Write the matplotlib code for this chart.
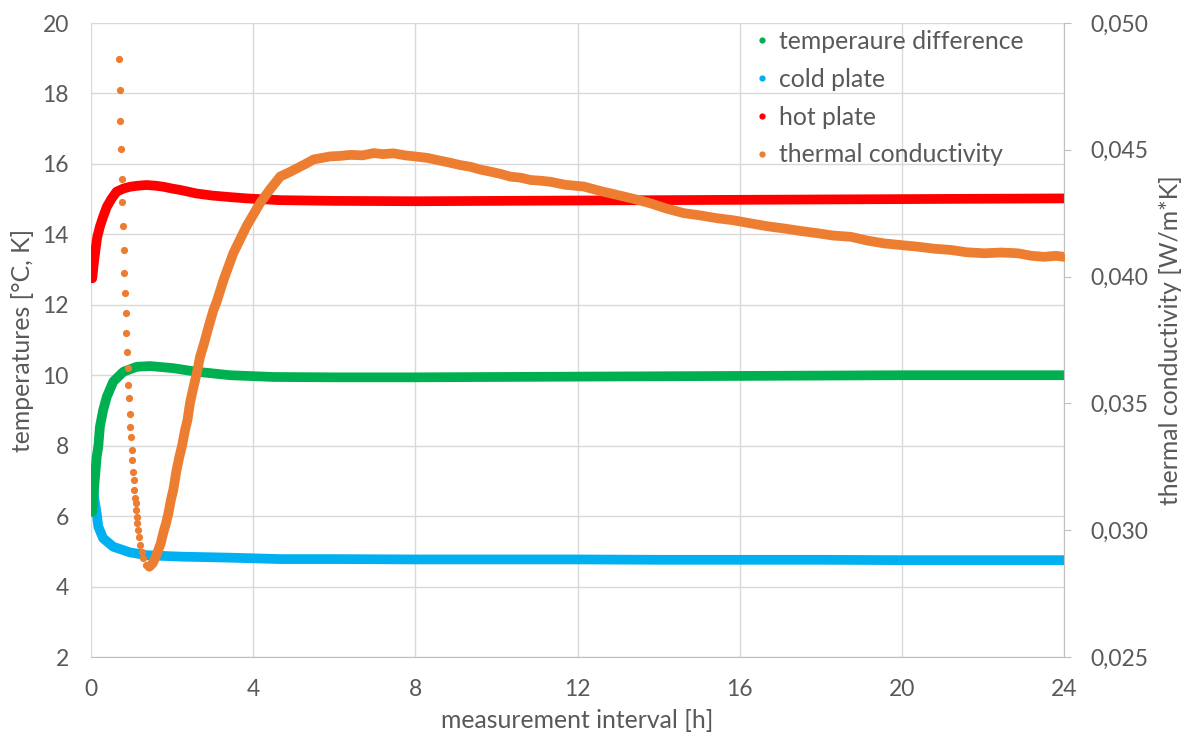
import matplotlib
matplotlib.use("Agg")
import matplotlib.pyplot as plt
from matplotlib.lines import Line2D
from matplotlib.ticker import FuncFormatter, MultipleLocator

# ---- measured series -------------------------------------------------------
# hot plate temperature [°C]
hot_t = [0.03, 0.06, 0.10, 0.15, 0.22, 0.30, 0.39, 0.50, 0.63, 0.80, 0.96, 1.15,
         1.37, 1.60, 1.79, 2.00, 2.20, 2.60, 3.00, 3.40, 3.84, 4.67, 6.0, 8.0,
         10.0, 12.0, 14.0, 16.0, 18.0, 20.0, 22.0, 24.0]
hot = [12.75, 13.08, 13.46, 13.90, 14.22, 14.50, 14.78, 15.00, 15.21, 15.30, 15.35,
       15.38, 15.40, 15.38, 15.35, 15.30, 15.26, 15.16, 15.10, 15.06, 15.02, 14.97,
       14.95, 14.94, 14.95, 14.96, 14.97, 14.98, 14.99, 15.00, 15.01, 15.02]

# cold plate temperature [°C]
cold_t = [0.03, 0.06, 0.07, 0.10, 0.14, 0.18, 0.30, 0.55, 0.96, 1.37, 2.20, 3.43,
          4.67, 6.0, 8.0, 10.0, 12.0, 14.0, 16.0, 18.0, 20.0, 22.0, 24.0]
cold = [7.31, 6.88, 6.60, 6.36, 6.08, 5.70, 5.37, 5.13, 4.97, 4.89, 4.85, 4.82,
        4.78, 4.78, 4.77, 4.77, 4.77, 4.76, 4.76, 4.76, 4.75, 4.75, 4.75]

# temperature difference [K]
diff_t = [0.03, 0.07, 0.10, 0.14, 0.18, 0.22, 0.30, 0.39, 0.55, 0.80, 1.13, 1.46,
          2.03, 2.60, 3.43, 4.50, 6.0, 8.0, 10.0, 12.0, 14.0, 16.0, 18.0, 20.0,
          22.0, 24.0]
diff = [6.12, 6.70, 7.12, 7.69, 7.97, 8.54, 9.01, 9.39, 9.82, 10.10, 10.24, 10.26,
        10.20, 10.10, 10.00, 9.95, 9.94, 9.94, 9.95, 9.96, 9.97, 9.98, 9.99, 10.00,
        10.00, 10.00]

# thermal conductivity [W/m*K] - start-up readings (sparse, one per minute)
tc_start_t = [0.699, 0.709, 0.723, 0.741, 0.758, 0.773, 0.790, 0.807, 0.822, 0.847,
              0.864, 0.872, 0.889, 0.906, 0.921, 0.938, 0.956, 0.970, 0.988, 1.005,
              1.020, 1.037, 1.054, 1.069, 1.086, 1.104, 1.119, 1.136, 1.144, 1.169,
              1.193, 1.218, 1.251, 1.292, 1.358]
tc_start = [0.04858, 0.04736, 0.04614, 0.04503, 0.04385, 0.04293, 0.04200, 0.04105,
            0.04013, 0.03934, 0.03858, 0.03779, 0.03704, 0.03638, 0.03573, 0.03520,
            0.03458, 0.03408, 0.03369, 0.03316, 0.03277, 0.03231, 0.03198, 0.03159,
            0.03126, 0.03106, 0.03080, 0.03053, 0.03027, 0.03001, 0.02974, 0.02942,
            0.02915, 0.02889, 0.02863]

# thermal conductivity [W/m*K] - main run
tc_t = [1.44, 1.52, 1.60, 1.66, 1.72, 1.78, 1.85, 1.91, 1.97, 2.03, 2.11, 2.18, 2.24,
        2.32, 2.38, 2.44, 2.53, 2.61, 2.69, 2.79, 2.90, 3.02, 3.10, 3.27, 3.51, 3.84,
        4.17, 4.42, 4.67, 4.90, 5.08, 5.30, 5.49, 5.70, 5.90, 6.15, 6.40, 6.70, 6.97,
        7.20, 7.46, 7.75, 8.04, 8.30, 8.53, 8.86, 9.10, 9.36, 9.60, 9.85, 10.10,
        10.35, 10.60, 10.84, 11.10, 11.33, 11.70, 12.16, 12.55, 12.98, 13.40, 13.80,
        14.20, 14.63, 15.00, 15.45, 15.85, 16.27, 16.70, 17.09, 17.50, 17.92, 18.30,
        18.74, 19.15, 19.56, 20.00, 20.39, 20.80, 21.21, 21.60, 22.03, 22.45, 22.86,
        23.20, 23.51, 23.80, 24.00]
tc = [0.02856, 0.02869, 0.02896, 0.02922, 0.02948, 0.02988, 0.03027, 0.03067,
      0.03119, 0.03159, 0.03237, 0.03290, 0.03329, 0.03395, 0.03435, 0.03500,
      0.03566, 0.03619, 0.03684, 0.03737, 0.03802, 0.03868, 0.03901, 0.03987,
      0.04092, 0.04200, 0.04290, 0.04345, 0.04395, 0.04412, 0.04427, 0.04445,
      0.04462, 0.04468, 0.04474, 0.04476, 0.04480, 0.04478, 0.04487, 0.04483,
      0.04486, 0.04478, 0.04473, 0.04468, 0.04460, 0.04449, 0.04440, 0.04433,
      0.04422, 0.04414, 0.04405, 0.04394, 0.04390, 0.04381, 0.04378, 0.04374,
      0.04362, 0.04355, 0.04338, 0.04322, 0.04306, 0.04289, 0.04268, 0.04250,
      0.04242, 0.04230, 0.04222, 0.04210, 0.04198, 0.04190, 0.04180, 0.04171,
      0.04162, 0.04157, 0.04142, 0.04131, 0.04124, 0.04118, 0.04110, 0.04105,
      0.04096, 0.04092, 0.04095, 0.04092, 0.04082, 0.04078, 0.04082, 0.04078]

x_ticks = [0, 4, 8, 12, 16, 20, 24]
labels = ["temperaure difference", "cold plate", "hot plate", "thermal conductivity"]

# ---- style -----------------------------------------------------------------
C_DIFF, C_COLD, C_HOT, C_TC = "#00B050", "#00B0F0", "#FF0000", "#ED7D31"
TXT = "#595959"
GRID = "#D9D9D9"
AXL = "#BFBFBF"
plt.rcParams["font.family"] = ["Lato", "DejaVu Sans"]
FS_TICK = 16.5
FS_TEXT = 17.8

W, H = 1187, 738
fig = plt.figure(figsize=(W / 100, H / 100), dpi=100)
ax = fig.add_axes([91 / W, 81 / H, (1064 - 91) / W, (657 - 23) / H])
ax2 = ax.twinx()

ax.set_xlim(0, 24)
ax.set_ylim(2, 20)
ax2.set_ylim(0.025, 0.050)
ax.set_xticks(x_ticks)
ax.yaxis.set_major_locator(MultipleLocator(2))
ax2.yaxis.set_major_locator(MultipleLocator(0.005))
ax2.yaxis.set_major_formatter(FuncFormatter(lambda v, _: f"{v:.3f}".replace(".", ",")))

ax.grid(True, color=GRID, linewidth=1.0)
ax.set_axisbelow(True)
for a in (ax, ax2):
    for s in a.spines.values():
        s.set_visible(False)
ax.spines["bottom"].set_visible(True)
ax.spines["bottom"].set_color(AXL)
ax2.spines["right"].set_visible(True)
ax2.spines["right"].set_color(AXL)

ax.tick_params(axis="x", length=0, labelsize=FS_TICK, labelcolor=TXT, pad=16)
ax.tick_params(axis="y", length=0, labelsize=FS_TICK, labelcolor=TXT, pad=16)
ax2.tick_params(axis="y", length=5, color=AXL, labelsize=FS_TICK, labelcolor=TXT, pad=14)

# ---- series ----------------------------------------------------------------
LW = 7.0
MS = 5.2


def band(a, t, v, c, z):
    a.plot(t, v, color=c, lw=LW, solid_capstyle="round", solid_joinstyle="round", zorder=z)
    a.plot(t, v, "o", color=c, ms=MS, mec="none", zorder=z)


band(ax, cold_t, cold, C_COLD, 2)
band(ax, diff_t, diff, C_DIFF, 3)
band(ax, hot_t, hot, C_HOT, 4)
ax2.plot(tc_start_t, tc_start, "o", color=C_TC, ms=MS, mec="none", zorder=5)
band(ax2, tc_t, tc, C_TC, 5)

ax.set_xlabel("measurement interval [h]", fontsize=FS_TEXT, color=TXT, labelpad=6)
ax.set_ylabel("temperatures [°C, K]", fontsize=FS_TEXT, color=TXT, labelpad=6)
ax2.set_ylabel("thermal conductivity [W/m*K]", fontsize=FS_TEXT, color=TXT, labelpad=8)

handles = [Line2D([], [], ls="none", marker="o", ms=4.5, mec="none", color=c)
           for c in (C_DIFF, C_COLD, C_HOT, C_TC)]
leg = fig.legend(handles, labels, loc="upper left", bbox_to_anchor=(742 / W, 1 - 20 / H),
                 frameon=False, fontsize=FS_TEXT, labelcolor=TXT, handlelength=0.8,
                 handletextpad=0.3, labelspacing=0.6, borderaxespad=0)

fig.savefig("out.png", dpi=100)
